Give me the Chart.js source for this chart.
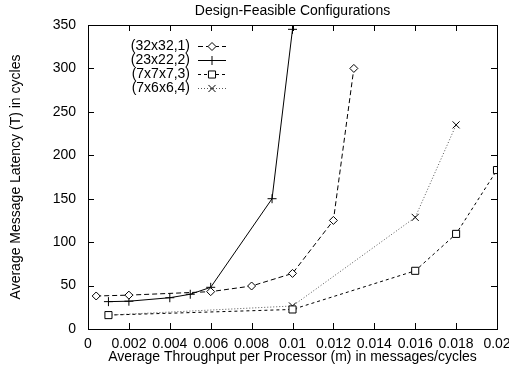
<!DOCTYPE html>
<html>
<head>
<meta charset="utf-8">
<script src="https://cdn.jsdelivr.net/npm/chart.js@4/dist/chart.umd.min.js"></script>
<style>
  html, body { margin: 0; padding: 0; background: #fff; }
  #wrap { width: 509px; height: 369px; }
</style>
</head>
<body>
<div id="wrap"><canvas id="chart" width="509" height="369"></canvas></div>
<script>
// data
const titleText = 'Design-Feasible Configurations';
const xTitle = 'Average Throughput per Processor (m) in messages/cycles';
const yTitle = 'Average Message Latency (T) in cycles';

const names = ['(32x32,1)', '(23x22,2)', '(7x7x7,3)', '(7x6x6,4)'];

const x1 = [0.0004, 0.002, 0.006, 0.008, 0.01, 0.012, 0.013];
const y1 = [38, 39, 43, 49.5, 64, 125, 300];

const x2 = [0.001, 0.002, 0.004, 0.005, 0.006, 0.009, 0.01];
const y2 = [31.5, 32, 36, 40, 48, 150, 345];

const x3 = [0.001, 0.01, 0.016, 0.018, 0.02];
const y3 = [16, 22.5, 67, 109.5, 183];

const x4 = [0.001, 0.01, 0.016, 0.018];
const y4 = [16, 26.5, 128.5, 235];

const xMin = 0, xMax = 0.02, xStep = 0.002;
const yMin = 0, yMax = 350, yStep = 50;

const FONT = '"Liberation Sans", Arial, Helvetica, sans-serif';
const FS = 14;

const styles = [
    { dash: [5, 3], color: '#000', marker: 'rectRot', r: 4 },
    { dash: [], color: '#000', marker: 'cross', r: 4.5 },
    { dash: [3, 3], color: '#000', marker: 'rect', r: 5 },
    { dash: [1, 2], color: '#555', marker: 'crossRot', r: 5 }
];

const pts = (xs, ys) => xs.map((x, i) => ({ x: x, y: ys[i] }));
const seriesData = [pts(x1, y1), pts(x2, y2), pts(x3, y3), pts(x4, y4)];

function drawMarker(ctx, type, x, y, r) {
    ctx.save();
    ctx.setLineDash([]);
    ctx.strokeStyle = '#000';
    ctx.fillStyle = '#fff';
    ctx.lineWidth = 1;
    ctx.beginPath();
    if (type === 'rectRot') {
        ctx.moveTo(x, y - r); ctx.lineTo(x + r, y); ctx.lineTo(x, y + r); ctx.lineTo(x - r, y); ctx.closePath();
        ctx.fill(); ctx.stroke();
    } else if (type === 'rect') {
        const s = r * Math.SQRT1_2;
        ctx.rect(x - s, y - s, 2 * s, 2 * s);
        ctx.fill(); ctx.stroke();
    } else if (type === 'cross') {
        ctx.moveTo(x - r, y); ctx.lineTo(x + r, y); ctx.moveTo(x, y - r); ctx.lineTo(x, y + r);
        ctx.stroke();
    } else {
        const s = r * Math.SQRT1_2;
        ctx.moveTo(x - s, y - s); ctx.lineTo(x + s, y + s); ctx.moveTo(x - s, y + s); ctx.lineTo(x + s, y - s);
        ctx.stroke();
    }
    ctx.restore();
}

// gnuplot style frame, inward ticks, title and key
const gnuplotFrame = {
    id: 'gnuplotFrame',
    afterDraw(chart) {
        const ctx = chart.ctx;
        const a = chart.chartArea;
        const xs = chart.scales.x, ys = chart.scales.y;
        const tl = 6;
        ctx.save();
        ctx.strokeStyle = '#000';
        ctx.lineWidth = 1;
        ctx.setLineDash([]);
        ctx.strokeRect(Math.round(a.left) + 0.5, Math.round(a.top) + 0.5,
            Math.round(a.right - a.left), Math.round(a.bottom - a.top));
        ctx.beginPath();
        xs.ticks.forEach(t => {
            const px = Math.round(xs.getPixelForValue(t.value)) + 0.5;
            ctx.moveTo(px, a.bottom); ctx.lineTo(px, a.bottom - tl);
            ctx.moveTo(px, a.top); ctx.lineTo(px, a.top + tl);
        });
        ys.ticks.forEach(t => {
            const py = Math.round(ys.getPixelForValue(t.value)) + 0.5;
            ctx.moveTo(a.left, py); ctx.lineTo(a.left + tl, py);
            ctx.moveTo(a.right, py); ctx.lineTo(a.right - tl, py);
        });
        ctx.stroke();

        ctx.fillStyle = '#000';
        ctx.font = FS + 'px ' + FONT;
        ctx.textAlign = 'center';
        ctx.textBaseline = 'middle';
        ctx.fillText(titleText, (a.left + a.right) / 2, 11);

        // key
        const textRight = 190, lineL = 198, lineR = 226;
        names.forEach((n, i) => {
            const y = 46 + i * 14;
            const st = styles[i];
            ctx.textAlign = 'right';
            ctx.fillStyle = '#000';
            ctx.fillText(n, textRight, y);
            ctx.beginPath();
            ctx.strokeStyle = st.color;
            ctx.setLineDash(st.dash);
            ctx.moveTo(lineL, y + 0.5); ctx.lineTo(lineR, y + 0.5);
            ctx.stroke();
            drawMarker(ctx, st.marker, (lineL + lineR) / 2, y + 0.5, st.r);
        });
        ctx.restore();
    }
};

new Chart(document.getElementById('chart'), {
    type: 'scatter',
    data: {
        datasets: seriesData.map((d, i) => ({
            label: names[i],
            data: d,
            showLine: true,
            borderColor: styles[i].color,
            borderWidth: 1,
            borderDash: styles[i].dash,
            tension: 0,
            pointStyle: styles[i].marker,
            pointRadius: styles[i].r,
            pointBorderColor: '#000',
            pointBackgroundColor: '#fff',
            pointBorderWidth: 1
        }))
    },
    options: {
        responsive: false,
        animation: false,
        layout: { padding: { top: 25, right: 0, left: 0, bottom: 0 } },
        plugins: {
            legend: { display: false },
            title: { display: false },
            tooltip: { enabled: false }
        },
        scales: {
            x: {
                type: 'linear',
                min: xMin, max: xMax,
                grid: { display: false, drawTicks: false },
                border: { display: false },
                afterFit: s => {
                    s.height = 40;
                    s.paddingLeft = 0;
                    s.paddingRight = 12;
                },
                ticks: {
                    stepSize: xStep,
                    autoSkip: false,
                    maxRotation: 0,
                    padding: 7,
                    color: '#000',
                    font: { family: FONT, size: FS },
                    callback: v => String(+(+v).toFixed(3))
                },
                title: {
                    display: true,
                    text: xTitle,
                    color: '#000',
                    font: { family: FONT, size: FS },
                    padding: { top: 0, bottom: 3 }
                }
            },
            y: {
                type: 'linear',
                min: yMin, max: yMax,
                grid: { display: false, drawTicks: false },
                border: { display: false },
                afterFit: s => { s.width = 88; },
                ticks: {
                    stepSize: yStep,
                    padding: 12,
                    color: '#000',
                    font: { family: FONT, size: FS }
                },
                title: {
                    display: true,
                    text: yTitle,
                    color: '#000',
                    font: { family: FONT, size: FS },
                    padding: { top: 8, bottom: 0 }
                }
            }
        }
    },
    plugins: [gnuplotFrame]
});
</script>
</body>
</html>
